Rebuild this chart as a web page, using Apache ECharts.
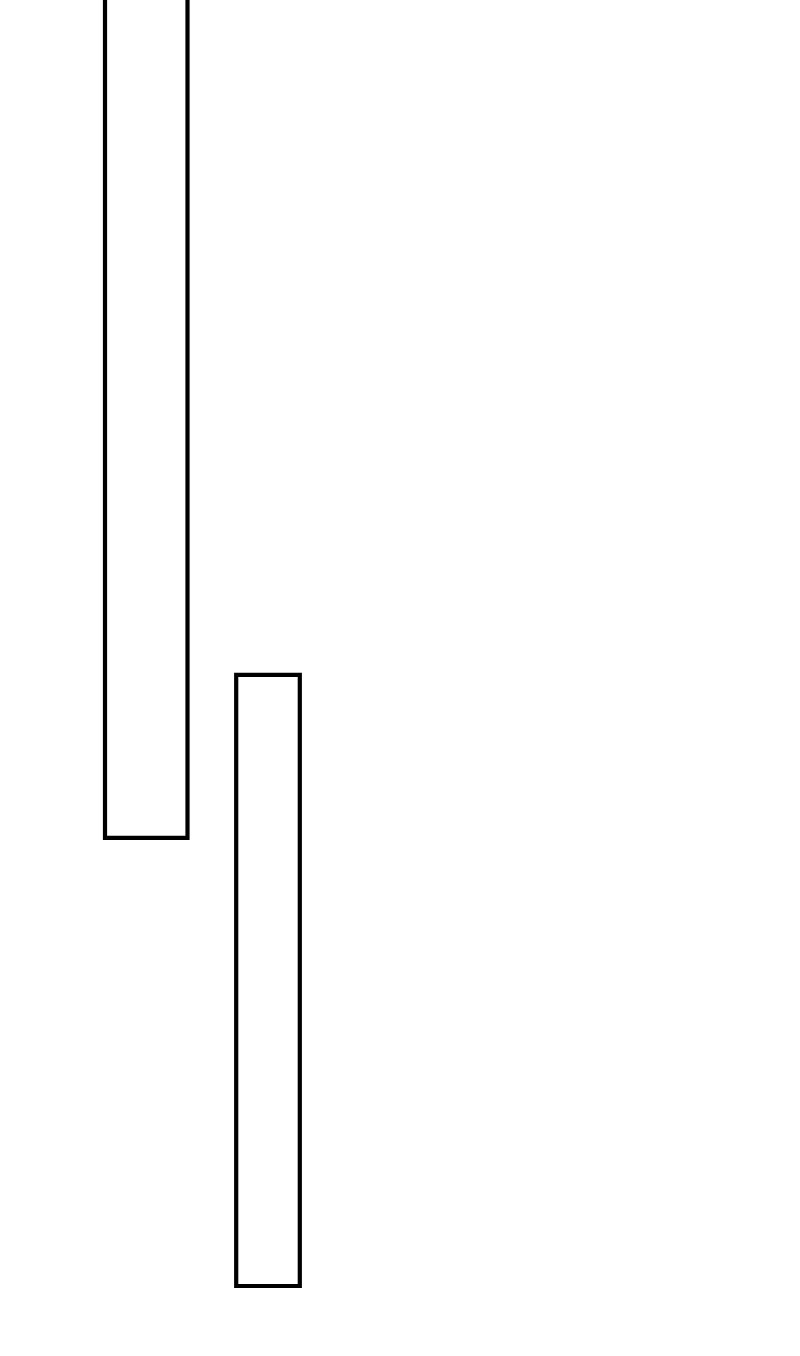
<!DOCTYPE html>
<html><head><meta charset="utf-8">
<script src="https://cdn.jsdelivr.net/npm/echarts@6/dist/echarts.min.js"></script>
<style>html,body{margin:0;padding:0;background:#fff}#c{width:800px;height:1356px}</style>
</head><body><div id="c"></div>
<script>
// Floating boxes: horizontal extent and vertical (low/high) values
const boxNames = ['A', 'B'];
const xStart = [1.05, 2.362];
const xEnd = [1.875, 2.998];
const lowValues = [5.182, 0.70];
const highValues = [14.2, 6.812];

const data = boxNames.map((n, i) => ({ name: n, value: [xStart[i], xEnd[i], lowValues[i], highValues[i]] }));

const chart = echarts.init(document.getElementById('c'), null, { renderer: 'canvas' });
chart.setOption({
  animation: false,
  backgroundColor: '#fff',
  grid: { left: 0, right: 0, top: 0, bottom: 0, containLabel: false },
  xAxis: { type: 'value', min: 0, max: 8, show: false, splitLine: { show: false } },
  yAxis: { type: 'value', min: 0, max: 13.56, show: false, splitLine: { show: false } },
  series: [{
    type: 'custom',
    clip: true,
    encode: { x: [0, 1], y: [2, 3] },
    data: data,
    renderItem: function (params, api) {
      const p0 = api.coord([api.value(0), api.value(3)]);
      const p1 = api.coord([api.value(1), api.value(2)]);
      return {
        type: 'rect',
        shape: { x: p0[0], y: p0[1], width: p1[0] - p0[0], height: p1[1] - p0[1] },
        style: { fill: '#fff', stroke: '#000', lineWidth: 4.2 }
      };
    }
  }]
});
</script>
</body></html>
